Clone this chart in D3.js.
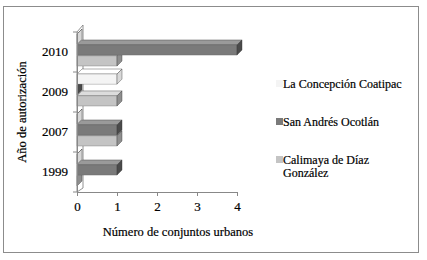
<!DOCTYPE html>
<html>
<head>
<meta charset="utf-8">
<script src="https://cdn.jsdelivr.net/npm/d3@7"></script>
<style>
  body { margin: 0; background: #fff; }
  svg text { font-family: "Times New Roman", Times, "Liberation Serif", serif !important; fill: #000; stroke: #000; stroke-width: 0.2px; }
</style>
</head>
<body>
<svg id="mainSvg" width="427" height="260"></svg>
<script>
// categories (bottom to top) and series values
var years = ["1999", "2007", "2009", "2010"];
var seriesNames = ["La Concepción Coatipac", "San Andrés Ocotlán", "Calimaya de Díaz González"];
var concepcion = [0, 0, 1, 0];
var sanAndres = [1, 1, 0, 4];
var calimaya = [0, 1, 1, 1];
var xTicks = [0, 1, 2, 3, 4];

var colors = ["#f4f4f4", "#7a7a7a", "#c4c4c4"];
var tops = ["#ffffff", "#9a9a9a", "#dcdcdc"];
var ends = ["#d8d8d8", "#4a4a4a", "#8e8e8e"];

var svg = d3.select("#mainSvg");

// outer frame
svg.append("rect")
  .attr("x", 3.5).attr("y", 6.5)
  .attr("width", 415).attr("height", 246)
  .attr("fill", "#fff").attr("stroke", "#8c8c8c").attr("stroke-width", 1);

var plot = {left: 77, top: 32, width: 160, height: 160};
var dx = 5, dy = -5;

var x = d3.scaleLinear().domain([0, 4]).range([plot.left, plot.left + plot.width]);
var y = d3.scaleBand().domain(years.slice().reverse()).range([plot.top, plot.top + plot.height]);
var yInner = d3.scaleBand().domain(seriesNames).range([2, 34]).paddingInner(0.08);

var rows = [];
years.forEach(function(yr, i) {
  var vals = [concepcion[i], sanAndres[i], calimaya[i]];
  vals.forEach(function(v, s) {
    rows.push({year: yr, series: s, name: seriesNames[s], value: v});
  });
});

// back wall (3D)
var g = svg.append("g");
g.append("path")
  .attr("d", "M" + plot.left + "," + (plot.top + plot.height) +
    " L" + (plot.left + dx + 1) + "," + (plot.top + plot.height + dy + 1) +
    " L" + (plot.left + dx + 1) + "," + (plot.top + dy - 2) +
    " L" + plot.left + "," + plot.top + " Z")
  .attr("fill", "#fff").attr("stroke", "#777").attr("stroke-width", 0.8);

// bars, drawn bottom series first so upper bars cover lower top faces
var order = rows.slice().sort(function(a, b) {
  if (a.year !== b.year) return years.indexOf(a.year) - years.indexOf(b.year);
  return b.series - a.series;
});

order.forEach(function(d) {
  var x0 = x(0), x1 = x(d.value);
  var y0 = y(d.year) + yInner(d.name);
  var h = yInner.bandwidth();
  var bar = g.append("g");
  // top face
  bar.append("path")
    .attr("d", "M" + x0 + "," + y0 + " L" + (x0 + dx) + "," + (y0 + dy) +
      " L" + (x1 + dx) + "," + (y0 + dy) + " L" + x1 + "," + y0 + " Z")
    .attr("fill", tops[d.series]).attr("stroke", "#333").attr("stroke-width", 0.4);
  // front face
  bar.append("rect")
    .attr("x", x0).attr("y", y0)
    .attr("width", x1 - x0).attr("height", h)
    .attr("fill", colors[d.series]).attr("stroke", "#555").attr("stroke-width", 0.3);
  // end face
  bar.append("path")
    .attr("d", "M" + x1 + "," + y0 + " L" + (x1 + dx) + "," + (y0 + dy) +
      " L" + (x1 + dx) + "," + (y0 + dy + h) + " L" + x1 + "," + (y0 + h) + " Z")
    .attr("fill", ends[d.series]).attr("stroke", "#333").attr("stroke-width", 0.4);
});

// axes
var xAxis = svg.append("g")
  .attr("transform", "translate(0," + (plot.top + plot.height) + ")")
  .call(d3.axisBottom(x).tickValues(xTicks).tickFormat(d3.format("d")).tickSize(4).tickSizeOuter(0));
xAxis.select(".domain").attr("stroke", "#888");
xAxis.selectAll(".tick line").attr("stroke", "#888");
xAxis.selectAll("text")
  .attr("y", 10)
  .style("font-size", "13px");

var yAxis = svg.append("g")
  .attr("transform", "translate(" + plot.left + ",0)")
  .call(d3.axisLeft(y).tickSize(0).tickSizeOuter(0).tickPadding(9));
yAxis.select(".domain").attr("stroke", "#888");
yAxis.selectAll("text")
  .style("font-size", "13px");
// band boundary ticks
yAxis.selectAll(".bandTick")
  .data(years.concat(["end"]))
  .enter().append("line")
  .attr("class", "bandTick")
  .attr("x1", -4).attr("x2", 0)
  .attr("y1", function(d, i) { return plot.top + i * y.step(); })
  .attr("y2", function(d, i) { return plot.top + i * y.step(); })
  .attr("stroke", "#888");

// axis titles
svg.append("text")
  .attr("x", 178).attr("y", 236)
  .attr("text-anchor", "middle")
  .style("font-size", "12.5px")
  .text("Número de conjuntos urbanos");

svg.append("text")
  .attr("transform", "translate(26," + (plot.top + plot.height / 2) + ") rotate(-90)")
  .attr("text-anchor", "middle")
  .style("font-size", "12.5px")
  .text("Año de autorización");

// legend
var legendLines = [["La Concepción Coatipac"], ["San Andrés Ocotlán"], ["Calimaya de Díaz", "González"]];
var legendY = [88, 126, 164];
var legend = svg.append("g");
legendLines.forEach(function(lines, i) {
  legend.append("rect")
    .attr("x", 276).attr("y", legendY[i] - 8)
    .attr("width", 7).attr("height", 7)
    .attr("fill", colors[i]);
  lines.forEach(function(t, j) {
    legend.append("text")
      .attr("x", 283).attr("y", legendY[i] + j * 13)
      .style("font-size", "12px")
      .text(t);
  });
});
</script>
</body>
</html>
